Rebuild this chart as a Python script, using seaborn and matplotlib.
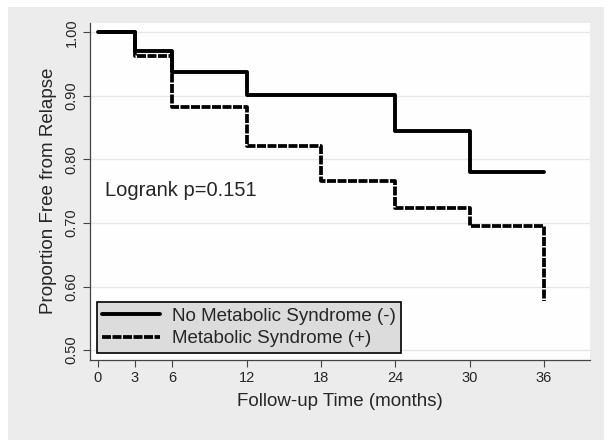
import pandas as pd
import matplotlib.pyplot as plt
import matplotlib.patches as mpatches
import seaborn as sns

# Kaplan-Meier step values
no_ms_time = [0, 3, 6, 12, 24, 30, 36]
no_ms_surv = [1.000, 0.971, 0.938, 0.901, 0.845, 0.780, 0.780]
ms_time = [0, 3, 6, 12, 18, 24, 30, 36, 36]
ms_surv = [1.000, 0.962, 0.882, 0.821, 0.766, 0.723, 0.696, 0.696, 0.578]

x_ticks = [0, 3, 6, 12, 18, 24, 30, 36]
y_ticks = [0.5, 0.6, 0.7, 0.8, 0.9, 1.0]
labels = ["No Metabolic Syndrome (-)", "Metabolic Syndrome (+)"]

no_ms = pd.DataFrame({"time": no_ms_time, "surv": no_ms_surv})
ms = pd.DataFrame({"time": ms_time, "surv": ms_surv})

sns.set_style("white")
plt.rcParams['font.family'] = ['Liberation Sans', 'DejaVu Sans']

fig = plt.figure(figsize=(6.1, 4.47), dpi=100)
fig.patch.set_facecolor("white")
fig.add_artist(mpatches.Rectangle((0.013, 0.016), 0.977, 0.969, transform=fig.transFigure,
                                  facecolor="#ececec", edgecolor="none", zorder=-10))
ax = fig.add_axes([0.1475, 0.1955, 0.8195, 0.7535])
ax.set_facecolor("#fefefe")

# dashed group drawn first so the solid one sits on top
sns.lineplot(data=ms, x="time", y="surv", estimator=None, sort=False, drawstyle="steps-post",
             color="black", lw=2.7, linestyle=(0, (2.4, 0.4)), ax=ax, label=labels[1])
sns.lineplot(data=no_ms, x="time", y="surv", estimator=None, sort=False, drawstyle="steps-post",
             color="black", lw=2.8, ax=ax, label=labels[0])

ax.set_xlim(-0.63, 39.7)
ax.set_ylim(0.485, 1.015)
ax.set_xticks(x_ticks)
ax.set_yticks(y_ticks)
ax.set_yticklabels([f"{v:.2f}" for v in y_ticks], rotation=90, va="center")
ax.tick_params(axis="both", direction="out", length=5, width=0.8, color="#444444",
               labelsize=10.5, pad=3, left=True, bottom=True)
ax.yaxis.grid(True, color="#e6e6e6", lw=0.9)
ax.set_axisbelow(True)
for s in ["top", "right"]:
    ax.spines[s].set_visible(False)
for s in ["left", "bottom"]:
    ax.spines[s].set_color("#444444")
    ax.spines[s].set_linewidth(0.9)

ax.set_xlabel("Follow-up Time (months)", fontsize=13.5, labelpad=6)
ax.set_ylabel("Proportion Free from Relapse", fontsize=13.5, labelpad=6)

ax.text(0.57, 0.751, "Logrank p=0.151", fontsize=14.5, va="center", ha="left")

h, l = ax.get_legend_handles_labels()
leg = ax.legend(h[::-1], l[::-1], loc="lower left", fontsize=13.5, frameon=True, fancybox=False,
                framealpha=1, facecolor="#dcdcdc", edgecolor="black", handlelength=3.1,
                labelspacing=0.3, borderaxespad=0.35, borderpad=0.3, handletextpad=0.6)
leg.get_frame().set_linewidth(1.2)

plt.savefig("out.png", dpi=100)
